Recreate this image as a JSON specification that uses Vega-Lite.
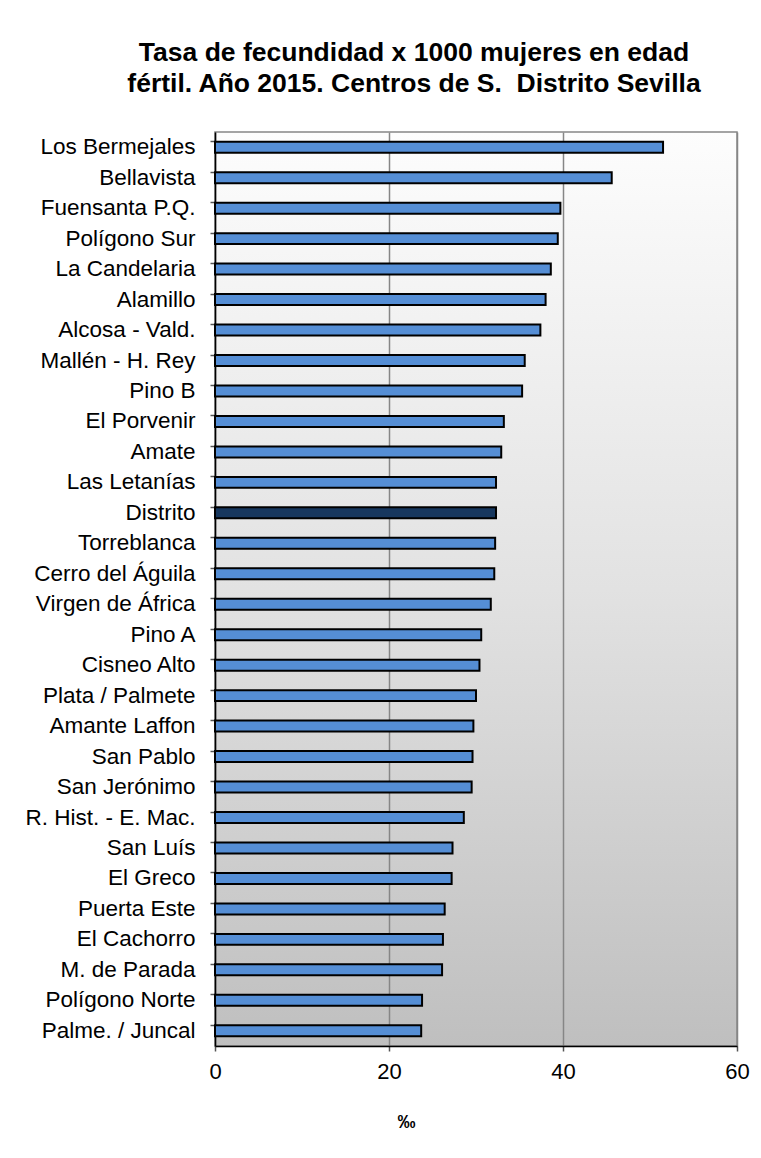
{
  "$schema": "https://vega.github.io/schema/vega-lite/v6.json",
  "autosize": {"type": "none"},
  "width": 522,
  "height": 914,
  "padding": {"left": 215, "top": 132, "right": 24, "bottom": 112},
  "background": "#ffffff",
  "title": {
    "text": ["Tasa de fecundidad x 1000 mujeres en edad", "fértil. Año 2015. Centros de S.\u00a0 Distrito Sevilla"],
    "font": "Liberation Sans",
    "fontSize": 26.5,
    "fontWeight": "bold",
    "color": "#000000",
    "anchor": "middle",
    "frame": "group",
    "dx": -62,
    "offset": 35,
    "lineHeight": 31
  },
  "config": {
    "font": "Liberation Sans",
    "view": {
      "stroke": "#868686",
      "strokeWidth": 1.5,
      "fill": {
        "gradient": "linear",
        "x1": 0, "y1": 0, "x2": 0, "y2": 1,
        "stops": [
          {"offset": 0, "color": "#fdfdfd"},
          {"offset": 0.5, "color": "#e2e2e2"},
          {"offset": 1, "color": "#bfbfbf"}
        ]
      }
    }
  },
  "data": {
    "values": [
      {"centro": "Los Bermejales", "tasa": 51.5, "grupo": "Centro"},
      {"centro": "Bellavista", "tasa": 45.6, "grupo": "Centro"},
      {"centro": "Fuensanta P.Q.", "tasa": 39.7, "grupo": "Centro"},
      {"centro": "Polígono Sur", "tasa": 39.4, "grupo": "Centro"},
      {"centro": "La Candelaria", "tasa": 38.6, "grupo": "Centro"},
      {"centro": "Alamillo", "tasa": 38.0, "grupo": "Centro"},
      {"centro": "Alcosa - Vald.", "tasa": 37.4, "grupo": "Centro"},
      {"centro": "Mallén - H. Rey", "tasa": 35.6, "grupo": "Centro"},
      {"centro": "Pino B", "tasa": 35.3, "grupo": "Centro"},
      {"centro": "El Porvenir", "tasa": 33.2, "grupo": "Centro"},
      {"centro": "Amate", "tasa": 32.9, "grupo": "Centro"},
      {"centro": "Las Letanías", "tasa": 32.3, "grupo": "Centro"},
      {"centro": "Distrito", "tasa": 32.3, "grupo": "Distrito"},
      {"centro": "Torreblanca", "tasa": 32.2, "grupo": "Centro"},
      {"centro": "Cerro del Águila", "tasa": 32.1, "grupo": "Centro"},
      {"centro": "Virgen de África", "tasa": 31.7, "grupo": "Centro"},
      {"centro": "Pino A", "tasa": 30.6, "grupo": "Centro"},
      {"centro": "Cisneo Alto", "tasa": 30.4, "grupo": "Centro"},
      {"centro": "Plata / Palmete\u00a0", "tasa": 30.0, "grupo": "Centro"},
      {"centro": "Amante Laffon", "tasa": 29.7, "grupo": "Centro"},
      {"centro": "San Pablo", "tasa": 29.6, "grupo": "Centro"},
      {"centro": "San Jerónimo", "tasa": 29.5, "grupo": "Centro"},
      {"centro": "R. Hist. - E. Mac.", "tasa": 28.6, "grupo": "Centro"},
      {"centro": "San Luís", "tasa": 27.3, "grupo": "Centro"},
      {"centro": "El Greco", "tasa": 27.2, "grupo": "Centro"},
      {"centro": "Puerta Este", "tasa": 26.4, "grupo": "Centro"},
      {"centro": "El Cachorro", "tasa": 26.2, "grupo": "Centro"},
      {"centro": "M. de Parada", "tasa": 26.1, "grupo": "Centro"},
      {"centro": "Polígono Norte", "tasa": 23.8, "grupo": "Centro"},
      {"centro": "Palme. / Juncal", "tasa": 23.7, "grupo": "Centro"}
    ]
  },
  "mark": {"type": "bar", "stroke": "#000000", "strokeWidth": 2, "cornerRadius": 0},
  "encoding": {
    "y": {
      "field": "centro",
      "type": "nominal",
      "sort": null,
      "scale": {"paddingInner": 0.64, "paddingOuter": 0.32},
      "axis": {
        "title": null,
        "labelFont": "Liberation Sans",
        "labelFontSize": 22.5,
        "labelColor": "#000000",
        "labelPadding": 15,
        "labelLimit": 300,
        "bandPosition": 0,
        "tickSize": 5,
        "tickColor": "#555555",
        "tickWidth": 1.5,
        "domainColor": "#000000",
        "domainWidth": 1.5,
        "grid": false
      }
    },
    "x": {
      "field": "tasa",
      "type": "quantitative",
      "scale": {"domain": [0, 60], "nice": false, "zero": true},
      "axis": {
        "values": [0, 20, 40, 60],
        "title": "‰",
        "titleFont": "Liberation Sans",
        "titleFontSize": 18,
        "titleFontWeight": "bold",
        "titleColor": "#000000",
        "titleX": 191,
        "titleY": 76,
        "titleBaseline": "middle",
        "titleAlign": "center",
        "labelFont": "Liberation Sans",
        "labelFontSize": 22,
        "labelColor": "#000000",
        "labelPadding": 10,
        "labelFlush": false,
        "tickSize": 5,
        "tickColor": "#555555",
        "tickWidth": 1.5,
        "domainColor": "#000000",
        "domainWidth": 1.5,
        "grid": true,
        "gridColor": "#868686",
        "gridWidth": 1.5
      }
    },
    "color": {
      "field": "grupo",
      "type": "nominal",
      "scale": {"domain": ["Centro", "Distrito"], "range": ["#558ED5", "#17375E"]},
      "legend": null
    }
  }
}
